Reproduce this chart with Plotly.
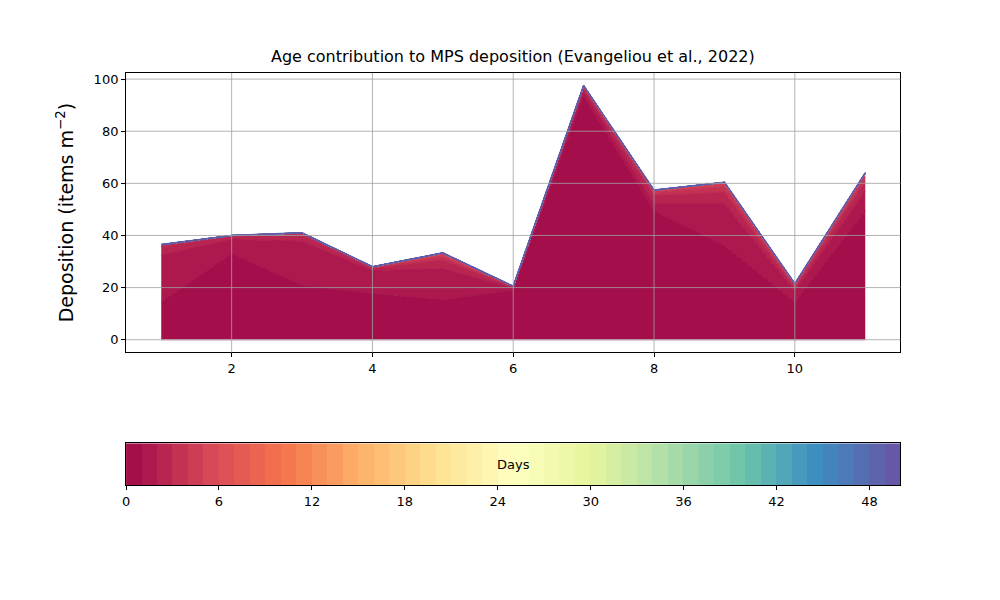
import plotly.graph_objects as go
from plotly.colors import sample_colorscale, unlabel_rgb

# ---------------- data ----------------
sites = [1, 2, 3, 4, 5, 6, 7, 8, 9, 10, 11]
n_days = 50
# contribution (items m-2) of each deposition age (days); ages >= 6 days contribute ~0
age_0 = [14.4, 33.0, 20.8, 17.6, 15.3, 18.9, 93.3, 49.3, 36.1, 14.4, 49.5]
age_1 = [18.0, 5.5, 17.0, 8.9, 12.0, 0.8, 2.0, 3.0, 16.2, 4.3, 7.6]
age_2 = [3.3, 1.2, 2.5, 0.8, 3.3, 0.4, 1.0, 3.0, 4.2, 1.2, 3.5]
age_3 = [0.5, 0.2, 0.4, 0.4, 1.3, 0.2, 0.6, 1.2, 2.2, 0.8, 1.8]
age_4 = [0.2, 0.1, 0.2, 0.2, 0.9, 0.1, 0.4, 0.6, 1.2, 0.5, 1.0]
age_5 = [0.1, 0.0, 0.1, 0.1, 0.5, 0.1, 0.2, 0.3, 0.5, 0.3, 0.6]
age_rest = [0.0, 0.0, 0.0, 0.0, 0.0, 0.0, 0.0, 0.0, 0.0, 0.0, 0.0]
layers = [age_0, age_1, age_2, age_3, age_4, age_5] + [age_rest] * (n_days - 6)

x_ticks = [2, 4, 6, 8, 10]
y_ticks = [0, 20, 40, 60, 80, 100]
day_ticks = [0, 6, 12, 18, 24, 30, 36, 42, 48]
day_edges = list(range(n_days + 1))

title = "Age contribution to MPS deposition (Evangeliou et al., 2022)"
ylabel = "Deposition (items m<sup>\u22122</sup>)"

# ---------------- colours ----------------
SPECTRAL = ['rgb(158,1,66)', 'rgb(213,62,79)', 'rgb(244,109,67)', 'rgb(253,174,97)',
            'rgb(254,224,139)', 'rgb(255,255,191)', 'rgb(230,245,152)', 'rgb(171,221,164)',
            'rgb(102,194,165)', 'rgb(50,136,189)', 'rgb(94,79,162)']
raw = sample_colorscale(SPECTRAL, [i / (n_days - 1) for i in range(n_days)])
alpha = 0.95
colors = []
for c in raw:
    r, g, b = unlabel_rgb(c)
    colors.append('rgb(%d,%d,%d)' % tuple(round(alpha * v + (1 - alpha) * 255) for v in (r, g, b)))

FONT = "DejaVu Sans"

fig = go.Figure()

# stacked areas
for i, layer in enumerate(layers):
    fig.add_trace(go.Scatter(
        x=sites, y=layer, mode="lines", stackgroup="age",
        line=dict(color=colors[i], width=1.6 if i == n_days - 1 else 1.0),
        fillcolor=colors[i], showlegend=False, hoverinfo="skip",
        xaxis="x", yaxis="y"))

# baseline edge
fig.add_trace(go.Scatter(x=sites, y=[0] * len(sites), mode="lines",
                         line=dict(color="rgba(215,150,175,0.9)", width=1.5),
                         showlegend=False, hoverinfo="skip", xaxis="x", yaxis="y"))

# discrete colour bar
cscale = []
for i, c in enumerate(colors):
    cscale.append([i / n_days, c])
    cscale.append([(i + 1) / n_days, c])
fig.add_trace(go.Heatmap(z=[list(range(n_days))], x=day_edges, y=[0, 1],
                         colorscale=cscale, zmin=-0.5, zmax=n_days - 0.5,
                         showscale=False, hoverinfo="skip", xaxis="x2", yaxis="y2"))

# grid lines above fills
grid_col = "rgba(160,160,160,0.8)"
shapes = []
for t in x_ticks:
    shapes.append(dict(type="line", xref="x", yref="y domain", x0=t, x1=t, y0=0, y1=1,
                       line=dict(color=grid_col, width=1), layer="above"))
for t in y_ticks:
    shapes.append(dict(type="line", xref="x domain", yref="y", x0=0, x1=1, y0=t, y1=t,
                       line=dict(color=grid_col, width=1), layer="above"))

axis_common = dict(showline=True, linecolor="black", linewidth=1, mirror=True,
                   ticks="outside", ticklen=4, tickcolor="black", tickwidth=1,
                   tickfont=dict(family=FONT, size=13, color="black"),
                   zeroline=False, showgrid=False)

fig.update_layout(
    width=1000, height=600,
    margin=dict(l=0, r=0, t=0, b=0),
    paper_bgcolor="white", plot_bgcolor="white",
    font=dict(family=FONT, color="black"),
    showlegend=False,
    shapes=shapes,
    xaxis=dict(domain=[0.1145, 0.892], range=[0.5, 11.5], tickvals=x_ticks,
               anchor="y", layer="above traces", **axis_common),
    yaxis=dict(domain=[0.4267, 0.8933], range=[-4.875, 102.375], tickvals=y_ticks,
               anchor="x", layer="above traces",
               title=dict(text=ylabel, font=dict(family=FONT, size=19), standoff=14),
               **axis_common),
    xaxis2=dict(domain=[0.1145, 0.892], range=[0, n_days], tickvals=day_ticks,
                anchor="y2", layer="above traces", **axis_common),
    yaxis2=dict(domain=[0.205, 0.275], range=[0, 1], anchor="x2",
                showticklabels=False, showline=True, linecolor="black", linewidth=1,
                mirror=True, ticks="", showgrid=False, zeroline=False),
    annotations=[
        dict(text=title, xref="paper", yref="paper", x=0.5035, y=0.902,
             xanchor="center", yanchor="bottom", showarrow=False,
             font=dict(family=FONT, size=16, color="black")),
        dict(text="Days", xref="x2", yref="y2", x=n_days / 2, y=0.5,
             xanchor="center", yanchor="middle", showarrow=False,
             font=dict(family=FONT, size=13, color="black")),
    ],
)

fig.write_html("out.html")
